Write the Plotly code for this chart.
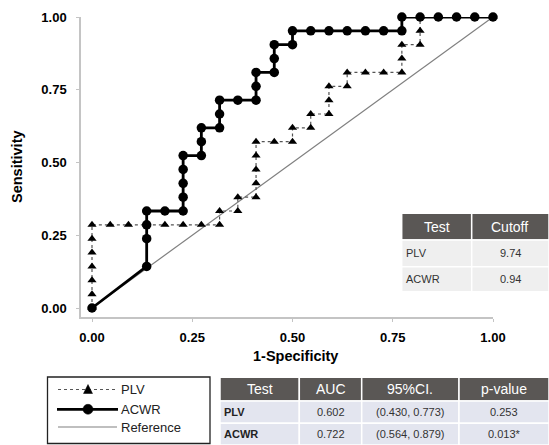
import plotly.graph_objects as go

W, H = 549, 445
N_NEG, N_POS = 22, 21

# ROC step counts (false positives, true positives)
plv_fp = [0, 0, 0, 0, 0, 0, 0, 1, 2, 3, 4, 5, 6, 7, 7, 8, 8, 9, 9, 9, 9, 9,
          10, 11, 11, 12, 12, 13, 13, 13, 14, 14, 15, 16, 17, 17, 17, 18, 18, 18, 19, 20, 21, 22]
plv_tp = [0, 1, 2, 3, 4, 5, 6, 6, 6, 6, 6, 6, 6, 6, 7, 7, 8, 8, 9, 10, 11, 12,
          12, 12, 13, 13, 14, 14, 15, 16, 16, 17, 17, 17, 17, 18, 19, 19, 20, 21, 21, 21, 21, 21]
acwr_fp = [0, 3, 3, 3, 3, 4, 5, 5, 5, 5, 5, 6, 6, 6, 7, 7, 7, 8, 9, 9, 9, 10, 10, 10,
           11, 11, 12, 13, 14, 15, 16, 17, 17, 18, 19, 20, 21, 22]
acwr_tp = [0, 3, 5, 6, 7, 7, 7, 8, 9, 10, 11, 11, 12, 13, 13, 14, 15, 15, 15, 16, 17, 17, 18, 19,
           19, 20, 20, 20, 20, 20, 20, 20, 21, 21, 21, 21, 21, 21]
ref_x = [0, 1]
ref_y = [0, 1]

tick_vals = [0, 0.25, 0.5, 0.75, 1.0]
tick_text = ["0.00", "0.25", "0.50", "0.75", "1.00"]

cutoff_header = ["Test", "Cutoff"]
cutoff_tests = ["PLV", "ACWR"]
cutoff_values = ["9.74", "0.94"]

auc_header = ["Test", "AUC", "95%CI.", "p-value"]
auc_tests = ["PLV", "ACWR"]
auc_values = ["0.602", "0.722"]
auc_ci = ["(0.430, 0.773)", "(0.564, 0.879)"]
auc_p = ["0.253", "0.013*"]

legend_names = ["PLV", "ACWR", "Reference"]

FONT = "Liberation Sans, Arial, sans-serif"


def px(x):
    return x / W


def py(y):
    return 1 - y / H


fig = go.Figure()
fig.add_trace(go.Scatter(x=ref_x, y=ref_y, mode="lines",
                         line=dict(color="#808080", width=1.2), showlegend=False,
                         cliponaxis=False, hoverinfo="skip"))
fig.add_trace(go.Scatter(x=[v / N_NEG for v in plv_fp], y=[v / N_POS for v in plv_tp],
                         mode="lines+markers", line=dict(color="#555555", width=1.2, dash="dot"),
                         marker=dict(symbol="triangle-up", size=8, color="black"),
                         showlegend=False, cliponaxis=False, name="PLV"))
fig.add_trace(go.Scatter(x=[v / N_NEG for v in acwr_fp], y=[v / N_POS for v in acwr_tp],
                         mode="lines+markers", line=dict(color="black", width=2.8),
                         marker=dict(symbol="circle", size=9.5, color="black"),
                         showlegend=False, cliponaxis=False, name="ACWR"))

# plot area: x data 0..1 -> px 92..493, y data 0..1 -> px 308..17; axis lines at x=81, y=317
x_left, x_right, y_top, y_bot = 81, 493, 17, 317
xr0 = -(92 - x_left) / (493 - 92)
yr0 = -(y_bot - 308) / (308 - 17)

axis_common = dict(showgrid=False, zeroline=False, showline=True, linecolor="#c4c4c4",
                   linewidth=1.5, ticks="outside", ticklen=3, tickcolor="#c4c4c4",
                   tickvals=tick_vals, ticktext=tick_text, automargin=False,
                   tickfont=dict(family=FONT, size=13, color="black", weight="bold"))
fig.update_xaxes(domain=[px(x_left), px(x_right)], range=[xr0, 1.0], ticklabelstandoff=5,
                 **axis_common)
fig.update_yaxes(domain=[py(y_bot), py(y_top)], range=[yr0, 1.0], ticklabelstandoff=7,
                 **axis_common)

shapes = []
annotations = []

# axis titles
annotations.append(dict(x=px(295), y=py(356), xref="paper", yref="paper", text="<b>1-Specificity</b>",
                        showarrow=False, xanchor="center", yanchor="middle",
                        font=dict(family=FONT, size=14.5, color="black")))
annotations.append(dict(x=px(17), y=py(167), xref="paper", yref="paper", text="<b>Sensitivity</b>",
                        showarrow=False, textangle=-90, xanchor="center", yanchor="middle",
                        font=dict(family=FONT, size=14.5, color="black")))


def add_cell(x0, x1, y0, y1, fill):
    shapes.append(dict(type="rect", xref="paper", yref="paper", x0=px(x0), x1=px(x1),
                       y0=py(y1), y1=py(y0), fillcolor=fill, line=dict(color="white", width=1.5),
                       layer="above"))


def add_text(x, y, text, size, color, xanchor="center", bold=False):
    t = f"<b>{text}</b>" if bold else text
    annotations.append(dict(x=px(x), y=py(y), xref="paper", yref="paper", text=t, showarrow=False,
                            xanchor=xanchor, yanchor="middle", borderpad=0,
                            font=dict(family=FONT, size=size, color=color)))


HEAD = "#5a5755"

# cutoff table
c_cols = [401.7, 471.7, 549]
c_rows = [213.3, 240, 266.7, 291.7]
for i in range(2):
    add_cell(c_cols[i], c_cols[i + 1], c_rows[0], c_rows[1], HEAD)
    add_text((c_cols[i] + c_cols[i + 1]) / 2 + (0 if i == 0 else -1), (c_rows[0] + c_rows[1]) / 2,
             cutoff_header[i], 14, "white")
for r in range(2):
    for i in range(2):
        add_cell(c_cols[i], c_cols[i + 1], c_rows[r + 1], c_rows[r + 2], "#efefef")
    yc = (c_rows[r + 1] + c_rows[r + 2]) / 2
    add_text(c_cols[0] + 3, yc, cutoff_tests[r], 11, "#333333", xanchor="left")
    add_text(510, yc, cutoff_values[r], 11, "#333333")

# AUC table
a_cols = [220, 299.3, 361.7, 459, 549]
a_rows = [377.3, 401, 423.3, 445]
a_centers = [259.6, 330.5, 410.3, 504]
for i in range(4):
    add_cell(a_cols[i], a_cols[i + 1], a_rows[0], a_rows[1], HEAD)
    add_text(a_centers[i], (a_rows[0] + a_rows[1]) / 2, auc_header[i], 14, "white")
body_cols = [auc_values, auc_ci, auc_p]
for r in range(2):
    for i in range(4):
        add_cell(a_cols[i], a_cols[i + 1], a_rows[r + 1], a_rows[r + 2], "#e3e5ef")
    yc = (a_rows[r + 1] + a_rows[r + 2]) / 2
    add_text(a_cols[0] + 3, yc, auc_tests[r], 11, "#222222", xanchor="left", bold=True)
    for i, col in enumerate(body_cols):
        add_text(a_centers[i + 1], yc, col[r], 11, "#333333")

# legend box
shapes.append(dict(type="rect", xref="paper", yref="paper", x0=px(47.5), x1=px(210),
                   y0=py(443.5), y1=py(377), line=dict(color="#222222", width=1.3)))
leg_y = [389.5, 409.3, 427]
lx0, lx1, lmid = 58, 117, 88
shapes.append(dict(type="line", xref="paper", yref="paper", x0=px(lx0), x1=px(lx1),
                   y0=py(leg_y[0]), y1=py(leg_y[0]), line=dict(color="#555555", width=1.2, dash="dot")))
shapes.append(dict(type="path", xref="paper", yref="paper",
                   path=f"M {px(lmid - 4.5)} {py(leg_y[0] + 4)} L {px(lmid + 4.5)} {py(leg_y[0] + 4)} "
                        f"L {px(lmid)} {py(leg_y[0] - 5)} Z",
                   fillcolor="black", line=dict(color="black", width=0.5)))
shapes.append(dict(type="line", xref="paper", yref="paper", x0=px(lx0 - 1), x1=px(lx1 + 1),
                   y0=py(leg_y[1]), y1=py(leg_y[1]), line=dict(color="black", width=2.8)))
shapes.append(dict(type="circle", xref="paper", yref="paper", x0=px(lmid - 5), x1=px(lmid + 5),
                   y0=py(leg_y[1] + 5), y1=py(leg_y[1] - 5), fillcolor="black",
                   line=dict(color="black", width=0.5)))
shapes.append(dict(type="line", xref="paper", yref="paper", x0=px(lx0), x1=px(lx1),
                   y0=py(leg_y[2]), y1=py(leg_y[2]), line=dict(color="#808080", width=1.2)))
for name, yy in zip(legend_names, leg_y):
    add_text(120, yy, name, 13, "#222222", xanchor="left")

fig.update_layout(width=W, height=H, margin=dict(l=0, r=0, t=0, b=0, pad=0, autoexpand=False),
                  plot_bgcolor="white", paper_bgcolor="white",
                  shapes=shapes, annotations=annotations, showlegend=False,
                  font=dict(family=FONT))

fig.write_html("out.html", config={"displayModeBar": False},
               post_script="document.body.style.margin='0px';document.body.style.padding='0px';")
